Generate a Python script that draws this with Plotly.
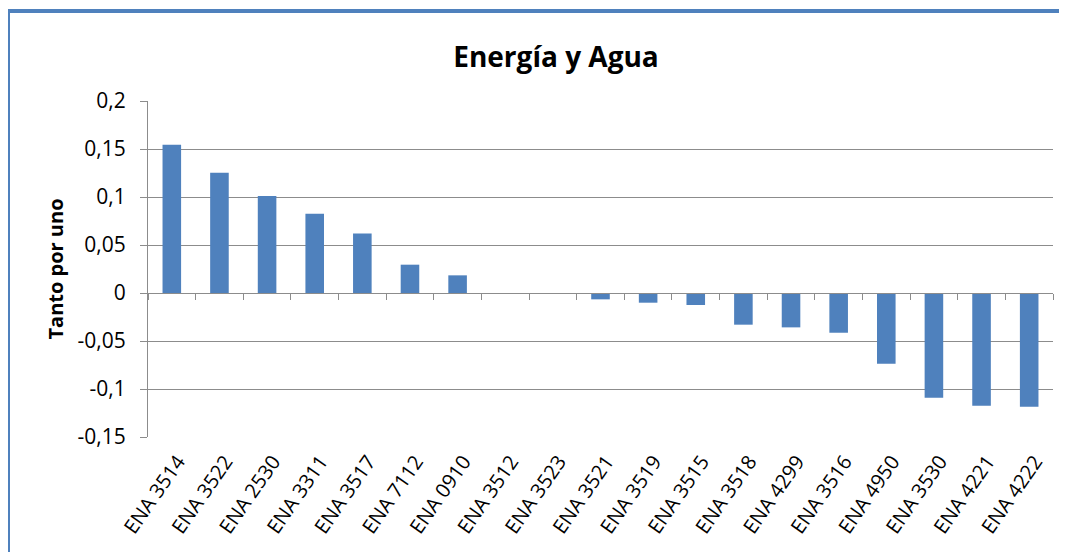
import plotly.graph_objects as go

categories = ["ENA 3514", "ENA 3522", "ENA 2530", "ENA 3311", "ENA 3517", "ENA 7112",
              "ENA 0910", "ENA 3512", "ENA 3523", "ENA 3521", "ENA 3519", "ENA 3515",
              "ENA 3518", "ENA 4299", "ENA 3516", "ENA 4950", "ENA 3530", "ENA 4221",
              "ENA 4222"]
values = [0.1545, 0.1253, 0.101, 0.0826, 0.062, 0.0295, 0.0184, 0.0, 0.0,
          -0.0066, -0.0101, -0.0125, -0.033, -0.0358, -0.0414, -0.0736,
          -0.109, -0.1174, -0.1184]
y_tickvals = [0.2, 0.15, 0.1, 0.05, 0, -0.05, -0.1, -0.15]
y_ticktext = ["0,2", "0,15", "0,1", "0,05", "0", "-0,05", "-0,1", "-0,15"]

FONT = "Open Sans"
GRID = "#8c8c8c"
BLUE = "#4F81BD"

n = len(categories)
boundaries = [i - 0.5 for i in range(n + 1)]

fig = go.Figure()
fig.add_trace(go.Bar(x=categories, y=values, marker=dict(color=BLUE, line=dict(width=0)),
                     showlegend=False, hoverinfo="x+y"))
# invisible helper trace for the zero-line category axis
fig.add_trace(go.Scatter(x=[boundaries[0], boundaries[-1]], y=[0, 0], xaxis="x2", yaxis="y",
                         mode="lines", line=dict(width=0), showlegend=False, hoverinfo="skip"))

fig.update_layout(
    width=1067, height=552,
    margin=dict(l=140, r=22, t=93, b=123),
    paper_bgcolor="white", plot_bgcolor="white",
    bargap=0.61,
    title=dict(text="<b>Energía y Agua</b>", x=0.5136, xanchor="center", y=0.911, yanchor="middle",
               yref="container", font=dict(family=FONT, size=28, color="black")),
    font=dict(family=FONT, color="black"),
    xaxis=dict(type="category", range=[-0.5, n - 0.5], showgrid=False, showline=False,
               ticks="", tickangle=-55, tickfont=dict(family=FONT, size=20, color="black"),
               ticklabelshift=6, ticklabelstandoff=8,
               zeroline=False, automargin=False),
    xaxis2=dict(overlaying="x", anchor="free", position=0.15 / 0.35, range=[-0.5, n - 0.5],
                showline=True, linecolor=GRID, linewidth=1, ticks="outside", ticklen=6,
                tickcolor=GRID, tickvals=boundaries, showticklabels=False, showgrid=False,
                zeroline=False, side="bottom", automargin=False),
    yaxis=dict(range=[-0.15, 0.2], tickvals=y_tickvals, ticktext=y_ticktext,
               showgrid=True, gridcolor=GRID, gridwidth=1, showline=True, linecolor=GRID,
               linewidth=1, ticks="outside", ticklen=7, tickcolor=GRID, zeroline=False,
               ticklabelstandoff=10, automargin=False,
               tickfont=dict(family=FONT, size=21, color="black"),
               title=dict(text="<b>Tanto por uno</b>", font=dict(family=FONT, size=20, color="black"),
                          standoff=8)),
    shapes=[
        dict(type="line", xref="paper", yref="paper", x0=-0.1547, x1=-0.1547, y0=-0.5, y1=1.268,
             line=dict(color=BLUE, width=4)),
        dict(type="line", xref="paper", yref="paper", x0=-0.1547, x1=1.05, y0=1.268, y1=1.268,
             line=dict(color=BLUE, width=4)),
    ],
)

fig.write_html("out.html")
